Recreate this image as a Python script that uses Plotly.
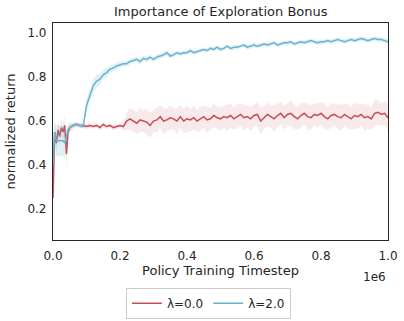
import plotly.graph_objects as go

# x in units of 1e6 timesteps
x_steps = [0.0, 0.005, 0.01, 0.015, 0.02, 0.025, 0.03, 0.035, 0.04, 0.045] + [round(0.05 + 0.01 * i, 2) for i in range(96)]

red_mean = [0.25, 0.55, 0.50, 0.56, 0.53, 0.57, 0.55, 0.58, 0.45, 0.55,
            0.57, 0.58, 0.585, 0.58, 0.58, 0.575, 0.58, 0.575, 0.58, 0.57,
            0.585, 0.575, 0.58, 0.57, 0.575, 0.58, 0.575, 0.60, 0.61, 0.60,
            0.59, 0.605, 0.60, 0.595, 0.58, 0.60, 0.605, 0.62, 0.60, 0.605,
            0.615, 0.61, 0.60, 0.62, 0.60, 0.61, 0.605, 0.615, 0.60, 0.61,
            0.62, 0.605, 0.61, 0.625, 0.615, 0.61, 0.62, 0.615, 0.625, 0.61,
            0.62, 0.63, 0.615, 0.62, 0.61, 0.625, 0.63, 0.60, 0.615, 0.63,
            0.62, 0.61, 0.625, 0.635, 0.615, 0.63, 0.635, 0.62, 0.61, 0.625,
            0.635, 0.62, 0.615, 0.63, 0.625, 0.635, 0.62, 0.61, 0.625, 0.63,
            0.62, 0.615, 0.63, 0.62, 0.61, 0.625, 0.62, 0.63, 0.615, 0.62,
            0.61, 0.635, 0.64, 0.63, 0.635, 0.615]

red_half = [0.03, 0.04, 0.04, 0.04, 0.04, 0.04, 0.04, 0.04, 0.07, 0.04,
            0.02, 0.015, 0.012, 0.012, 0.012, 0.012, 0.012, 0.012, 0.012, 0.012,
            0.012, 0.012, 0.012, 0.012, 0.012, 0.012, 0.02, 0.04, 0.05, 0.05,
            0.05, 0.055, 0.05, 0.06, 0.055, 0.05, 0.055, 0.05, 0.06, 0.05,
            0.055, 0.05, 0.06, 0.05, 0.055, 0.06, 0.05, 0.055, 0.05, 0.055,
            0.05, 0.06, 0.05, 0.055, 0.05, 0.055, 0.05, 0.06, 0.055, 0.05,
            0.055, 0.05, 0.06, 0.05, 0.055, 0.05, 0.055, 0.06, 0.05, 0.055,
            0.05, 0.06, 0.055, 0.05, 0.055, 0.05, 0.06, 0.055, 0.05, 0.055,
            0.05, 0.06, 0.055, 0.05, 0.055, 0.05, 0.06, 0.05, 0.055, 0.05,
            0.055, 0.06, 0.05, 0.055, 0.05, 0.06, 0.055, 0.05, 0.06, 0.055,
            0.05, 0.06, 0.055, 0.05, 0.055, 0.06]

blue_mean = [0.40, 0.55, 0.51, 0.51, 0.51, 0.51, 0.51, 0.50, 0.53, 0.56,
             0.57, 0.58, 0.585, 0.58, 0.575, 0.67, 0.72, 0.76, 0.78, 0.79,
             0.81, 0.82, 0.835, 0.84, 0.85, 0.855, 0.86, 0.86, 0.87, 0.875,
             0.88, 0.87, 0.885, 0.88, 0.89, 0.88, 0.89, 0.895, 0.90, 0.91,
             0.895, 0.90, 0.91, 0.905, 0.91, 0.91, 0.92, 0.91, 0.915, 0.92,
             0.925, 0.92, 0.93, 0.925, 0.935, 0.925, 0.93, 0.94, 0.93, 0.935,
             0.935, 0.94, 0.945, 0.935, 0.94, 0.945, 0.94, 0.945, 0.95, 0.945,
             0.95, 0.955, 0.945, 0.95, 0.955, 0.955, 0.96, 0.95, 0.955, 0.96,
             0.955, 0.96, 0.965, 0.96, 0.955, 0.96, 0.96, 0.965, 0.96, 0.965,
             0.97, 0.965, 0.96, 0.965, 0.97, 0.965, 0.97, 0.975, 0.97, 0.965,
             0.97, 0.975, 0.97, 0.97, 0.965, 0.96]

blue_half = [0.05, 0.05, 0.07, 0.07, 0.07, 0.07, 0.07, 0.07, 0.04, 0.02,
             0.015, 0.01, 0.01, 0.01, 0.01, 0.03, 0.03, 0.03, 0.03, 0.025,
             0.02, 0.02, 0.015, 0.015, 0.015, 0.015, 0.012, 0.012, 0.012, 0.012,
             0.012, 0.012, 0.012, 0.012, 0.012, 0.012, 0.012, 0.012, 0.012, 0.012,
             0.01, 0.01, 0.01, 0.01, 0.01, 0.01, 0.01, 0.01, 0.01, 0.01,
             0.01, 0.01, 0.01, 0.01, 0.01, 0.01, 0.01, 0.01, 0.01, 0.01,
             0.01, 0.01, 0.01, 0.01, 0.01, 0.01, 0.01, 0.01, 0.01, 0.01,
             0.01, 0.01, 0.01, 0.01, 0.01, 0.01, 0.01, 0.01, 0.01, 0.01,
             0.01, 0.01, 0.01, 0.01, 0.01, 0.01, 0.01, 0.01, 0.01, 0.01,
             0.01, 0.01, 0.01, 0.01, 0.01, 0.01, 0.01, 0.01, 0.01, 0.01,
             0.01, 0.01, 0.01, 0.01, 0.01, 0.01]

series_names = ["λ=0.0", "λ=2.0"]
x_tick_labels = ["0.0", "0.2", "0.4", "0.6", "0.8", "1.0"]

xs = [v * 1e6 for v in x_steps]
FONT = "DejaVu Sans"
TXT = "#262626"

fig = go.Figure()

def add_series(mean, half, color, band, name):
    upper = [m + h for m, h in zip(mean, half)]
    lower = [m - h for m, h in zip(mean, half)]
    fig.add_trace(go.Scatter(x=xs, y=upper, mode="lines", line=dict(width=0),
                             showlegend=False, hoverinfo="skip"))
    fig.add_trace(go.Scatter(x=xs, y=lower, mode="lines", line=dict(width=0),
                             fill="tonexty", fillcolor=band, showlegend=False, hoverinfo="skip"))
    fig.add_trace(go.Scatter(x=xs, y=mean, mode="lines", name=name,
                             line=dict(color=color, width=1.5)))

add_series(red_mean, red_half, "#c44e52", "rgba(196,78,82,0.12)", series_names[0])
add_series(blue_mean, blue_half, "#64b5cd", "rgba(100,181,205,0.2)", series_names[1])

fig.update_layout(
    width=404, height=321,
    margin=dict(l=53, r=16, t=23, b=81, autoexpand=False),
    paper_bgcolor="white", plot_bgcolor="white",
    font=dict(family=FONT, color=TXT, size=12),
    title=dict(text="Importance of Exploration Bonus", x=0.5465, xanchor="center",
               y=0.963, yanchor="middle", font=dict(size=13, color=TXT)),
    xaxis=dict(range=[0, 1e6], tickvals=[0, 2e5, 4e5, 6e5, 8e5, 1e6], ticktext=x_tick_labels,
               showgrid=False, zeroline=False, showline=True, linecolor="#262626", linewidth=1.2,
               mirror=True, ticks="", tickfont=dict(size=12), automargin=False,
               ticklabelstandoff=4,
               title=dict(text="Policy Training Timestep", font=dict(size=13), standoff=4)),
    yaxis=dict(range=[0.06, 1.045], tickvals=[0.2, 0.4, 0.6, 0.8, 1.0], tickformat=".1f",
               showgrid=False, zeroline=False, showline=True, linecolor="#262626", linewidth=1.2,
               mirror=True, ticks="", tickfont=dict(size=12), automargin=False,
               ticklabelstandoff=3,
               title=dict(text="normalized return", font=dict(size=13), standoff=8)),
    legend=dict(orientation="h", x=0.464, xanchor="center", y=-0.22, yanchor="top",
                bordercolor="#cccccc", borderwidth=1, font=dict(size=12),
                itemwidth=30, traceorder="normal"),
    annotations=[dict(text="1e6", xref="paper", yref="paper", x=1.0, y=-0.13,
                      xanchor="right", yanchor="top", showarrow=False, font=dict(size=12))],
)

fig.write_html("out.html", config={"displayModeBar": False},
               post_script="document.body.style.margin='0';document.body.style.overflow='hidden';")
